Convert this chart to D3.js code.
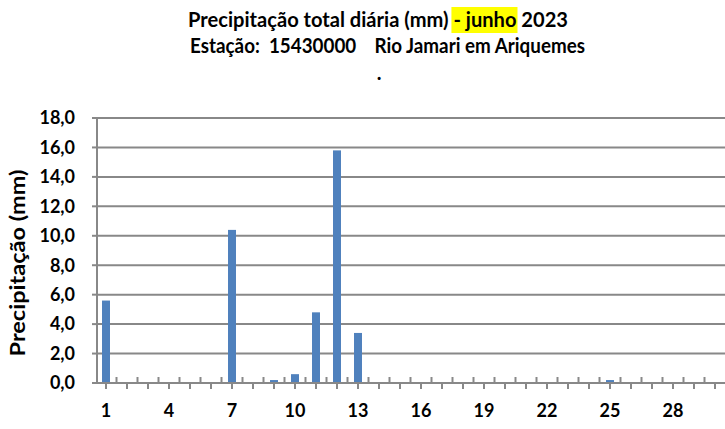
<!DOCTYPE html>
<html>
<head>
<meta charset="utf-8">
<script src="https://cdn.jsdelivr.net/npm/d3@7"></script>
<style>
  body { margin: 0; background: #fff; }
  text { font-family: Lato, "Open Sans", sans-serif; font-weight: bold; fill: #000; }
</style>
</head>
<body>
<script>
// chart data
var days = d3.range(1, 31);
var precip = [5.6, 0, 0, 0, 0, 0, 10.4, 0, 0.2, 0.6,
              4.8, 15.8, 3.4, 0, 0, 0, 0, 0, 0, 0,
              0, 0, 0, 0, 0.2, 0, 0, 0, 0, 0];
var yTicks = [0, 2, 4, 6, 8, 10, 12, 14, 16, 18];
var xLabels = [1, 4, 7, 10, 13, 16, 19, 22, 25, 28];
var title1 = "Precipitação total diária (mm) - junho 2023";
var title2 = "Estação:  15430000    Rio Jamari em Ariquemes";

var width = 725, height = 429;
var grey = "#888888";

var svg = d3.select("body").append("svg")
  .attr("width", width)
  .attr("height", height);

// scales
var x = d3.scaleBand()
  .domain(days)
  .range([95.5, 725.5])
  .paddingInner(0.62)
  .paddingOuter(0.31);
var step = x.step();

var y = d3.scaleLinear()
  .domain([0, 18])
  .range([383, 118]);

// title
var hl = svg.append("rect") // highlight behind "- junho"
  .attr("fill", "#ffff00");
var t1 = svg.append("text")
  .attr("x", 188).attr("y", 27)
  .attr("font-size", 20)
  .attr("textLength", 380).attr("lengthAdjust", "spacingAndGlyphs")
  .text(title1);
svg.append("text")
  .attr("x", 190).attr("y", 53)
  .attr("font-size", 20)
  .style("white-space", "pre")
  .attr("textLength", 395).attr("lengthAdjust", "spacingAndGlyphs")
  .text(title2);
svg.append("text")
  .attr("x", 379).attr("y", 80)
  .attr("font-size", 20)
  .attr("text-anchor", "middle")
  .text(".");

// place highlight from the measured glyphs
var i0 = title1.indexOf("- junho");
var a = t1.node().getExtentOfChar(i0);
var b = t1.node().getExtentOfChar(i0 + 6);
hl.attr("x", a.x - 2).attr("y", 7)
  .attr("width", b.x + b.width - a.x + 3)
  .attr("height", 26);

// gridlines
svg.append("g")
  .selectAll("line")
  .data(yTicks.filter(function (d) { return d > 0; }))
  .join("line")
  .attr("x1", 97).attr("x2", 726)
  .attr("y1", function (d) { return y(d); })
  .attr("y2", function (d) { return y(d); })
  .attr("stroke", grey)
  .attr("stroke-width", 2);

// y axis
svg.append("line")
  .attr("x1", 97).attr("x2", 97)
  .attr("y1", y(18)).attr("y2", y(0))
  .attr("stroke", grey).attr("stroke-width", 2);
svg.append("g")
  .selectAll("line")
  .data(yTicks)
  .join("line")
  .attr("x1", 92).attr("x2", 97)
  .attr("y1", function (d) { return y(d); })
  .attr("y2", function (d) { return y(d); })
  .attr("stroke", grey).attr("stroke-width", 2);
svg.append("g")
  .selectAll("text")
  .data(yTicks)
  .join("text")
  .attr("x", 75)
  .attr("y", function (d) { return y(d); })
  .attr("dy", "0.35em")
  .attr("text-anchor", "end")
  .attr("font-size", 18)
  .text(function (d) { return d3.format(".1f")(d).replace(".", ","); });

svg.append("text")
  .attr("transform", "translate(25,263) rotate(-90)")
  .attr("text-anchor", "middle")
  .attr("font-size", 20)
  .attr("textLength", 187).attr("lengthAdjust", "spacingAndGlyphs")
  .text("Precipitação (mm)");

// bars
svg.append("g")
  .selectAll("rect")
  .data(precip)
  .join("rect")
  .attr("x", function (d, i) { return x(days[i]); })
  .attr("width", x.bandwidth())
  .attr("y", function (d) { return y(d); })
  .attr("height", function (d) { return y(0) - y(d); })
  .attr("fill", "#4f81bd");

// x axis
svg.append("line")
  .attr("x1", 96).attr("x2", 726)
  .attr("y1", y(0)).attr("y2", y(0))
  .attr("stroke", grey).attr("stroke-width", 2);
// ticks below at category centres
svg.append("g")
  .selectAll("line")
  .data(days)
  .join("line")
  .attr("x1", function (d) { return x(d) + x.bandwidth() / 2; })
  .attr("x2", function (d) { return x(d) + x.bandwidth() / 2; })
  .attr("y1", y(0)).attr("y2", y(0) + 6)
  .attr("stroke", grey).attr("stroke-width", 2);
// ticks above at category boundaries
svg.append("g")
  .selectAll("line")
  .data(days.slice(0, -1))
  .join("line")
  .attr("x1", function (d) { return x(d) + x.bandwidth() / 2 + step / 2; })
  .attr("x2", function (d) { return x(d) + x.bandwidth() / 2 + step / 2; })
  .attr("y1", y(0) - 6).attr("y2", y(0))
  .attr("stroke", grey).attr("stroke-width", 2);
svg.append("g")
  .selectAll("text")
  .data(xLabels)
  .join("text")
  .attr("x", function (d) { return x(d) + x.bandwidth() / 2; })
  .attr("y", 417)
  .attr("text-anchor", "middle")
  .attr("font-size", 18)
  .text(function (d) { return d; });
</script>
</body>
</html>
